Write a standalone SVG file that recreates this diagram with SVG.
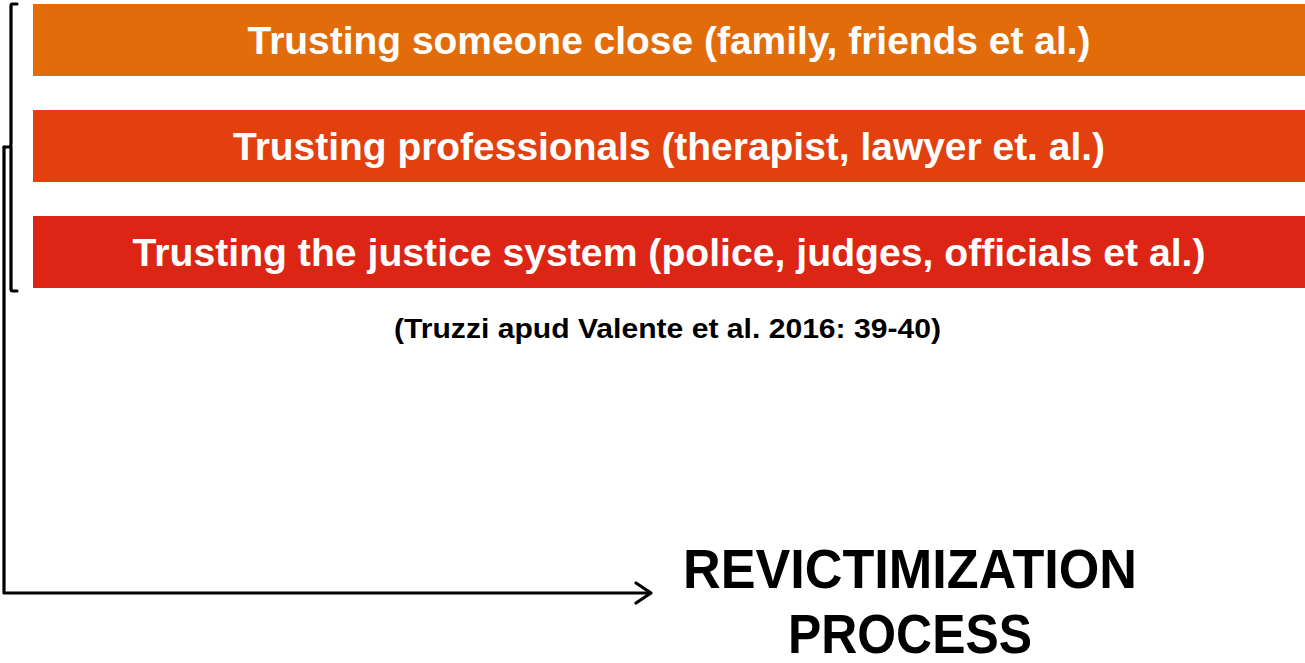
<svg xmlns="http://www.w3.org/2000/svg" width="1305" height="663" viewBox="0 0 1305 663">
<style>
.bar{stroke:none}
.bt{font-family:"Liberation Sans Narrow","Liberation Sans",Arial,sans-serif;font-weight:bold;fill:#fff;font-size:38px;text-anchor:middle}
.blk{font-family:"Liberation Sans Narrow","Liberation Sans",Arial,sans-serif;font-weight:bold;fill:#000;text-anchor:middle}
.ln{fill:none;stroke:#000;stroke-width:3.2;stroke-linejoin:round;stroke-linecap:round}
</style>
<rect width="1305" height="663" fill="#fff"/>
<g id="node-close">
<rect class="bar" x="33" y="4" width="1272" height="72" fill="#E36C0A"/>
<text class="bt" x="669" y="54" textLength="843" lengthAdjust="spacingAndGlyphs">Trusting someone close (family, friends et al.)</text>
</g>
<g id="node-professionals">
<rect class="bar" x="33" y="110" width="1272" height="72" fill="#E2400F"/>
<text class="bt" x="669" y="160" textLength="872" lengthAdjust="spacingAndGlyphs">Trusting professionals (therapist, lawyer et. al.)</text>
</g>
<g id="node-justice">
<rect class="bar" x="33" y="216" width="1272" height="72" fill="#DC2514"/>
<text class="bt" x="669" y="266" textLength="1073" lengthAdjust="spacingAndGlyphs">Trusting the justice system (police, judges, officials et al.)</text>
</g>
<g id="node-citation">
<text class="blk" x="667.5" y="338" font-size="28" textLength="547" lengthAdjust="spacingAndGlyphs">(Truzzi apud Valente et al. 2016: 39-40)</text>
</g>
<g id="node-revictimization">
<text class="blk" x="910" y="588" font-size="56" textLength="454" lengthAdjust="spacingAndGlyphs">REVICTIMIZATION</text>
<text class="blk" x="910" y="653" font-size="56" textLength="244" lengthAdjust="spacingAndGlyphs">PROCESS</text>
</g>
<g id="connectors">
<path class="ln" d="M17,4 H12 Q11,4 11,6 V144 Q11,147 9,147 H4"/>
<path class="ln" d="M11,147 V289 Q11,291 13,291 H17"/>
<path class="ln" d="M4,147 V593 H650"/>
<path class="ln" d="M636,583 L651,593 L636,603"/>
</g>
</svg>
